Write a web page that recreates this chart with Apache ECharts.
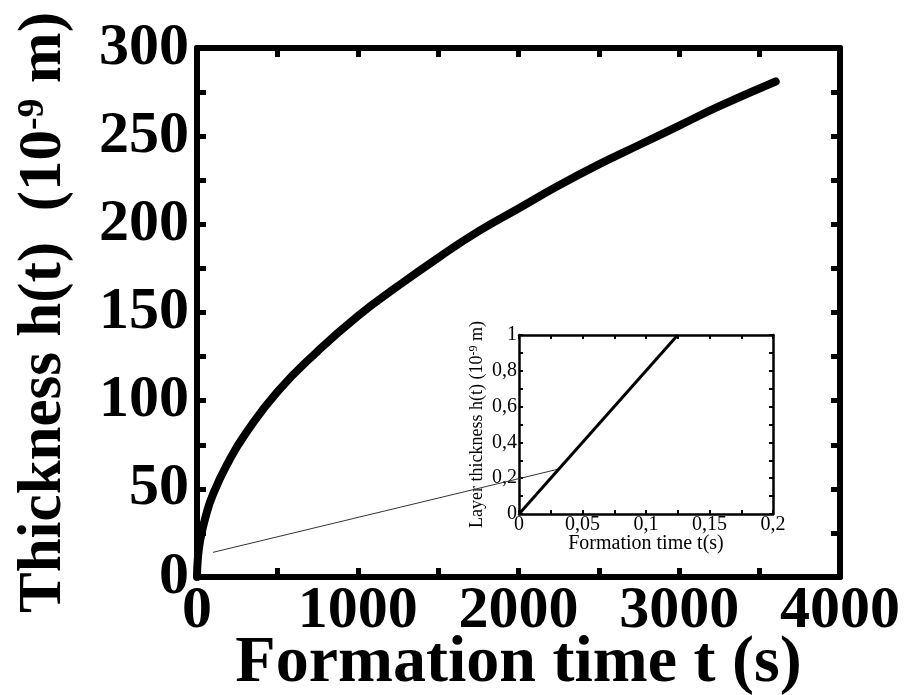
<!DOCTYPE html>
<html><head><meta charset="utf-8">
<script src="https://cdn.jsdelivr.net/npm/echarts@6/dist/echarts.min.js"></script>
<style>html,body{margin:0;padding:0;background:#fff}#c{width:907px;height:695px}</style>
</head><body><div id="c"></div>
<script>
// Main curve: formation time t (s) vs thickness h (1e-9 m)
const mainT = [0, 5, 20, 50, 100, 200, 300, 500, 750, 1000, 1250, 1500, 1750, 2000, 2250, 2500, 2750, 3000, 3250, 3600];
const mainH = [0, 10, 21, 33, 47, 66, 81, 105, 128, 148, 165, 181, 196, 209, 222, 234, 245, 256, 267, 281];
// Inset: early times
const insetT = [0, 0.125];
const insetH = [0, 1];
// Thin pointer line from the curve start to the inset (main-axes coordinates)
const pointerT = [100, 2240];
const pointerH = [14, 61];

const xTicksMain = [0, 1000, 2000, 3000, 4000];
const yTicksMain = [0, 50, 100, 150, 200, 250, 300];

const serif = '"Liberation Serif", "DejaVu Serif", serif';
const chart = echarts.init(document.getElementById('c'));

const pair = (a, b) => a.map((v, i) => [v, b[i]]);
const comma = v => String(v).replace('.', ',');

const mainAxisCommon = {
  nameMoveOverlap: false,
  axisLine: { show: true, onZero: false, lineStyle: { color: '#000', width: 6 } },
  axisTick: { show: true, inside: true, length: 9, lineStyle: { color: '#000', width: 5 } },
  splitLine: { show: false }
};
const insetAxisCommon = {
  nameMoveOverlap: false,
  axisLine: { show: true, onZero: false, lineStyle: { color: '#000', width: 2.5 } },
  axisTick: { show: true, inside: true, length: 4, lineStyle: { color: '#000', width: 2 } },
  splitLine: { show: false }
};

chart.setOption({
  animation: false,
  backgroundColor: '#fff',
  grid: [
    { left: 197, right: 67, top: 48, bottom: 118, containLabel: false, outerBoundsMode: 'none' },
    { left: 519, top: 335, width: 254, height: 179, containLabel: false, outerBoundsMode: 'none' }
  ],
  xAxis: [
    Object.assign({}, mainAxisCommon, {
      type: 'value', gridIndex: 0, min: 0, max: 4000, interval: 500, position: 'bottom',
      name: 'Formation time t (s)', nameLocation: 'middle', nameGap: 54,
      nameTextStyle: { fontFamily: serif, fontWeight: 'bold', fontSize: 66, color: '#000' },
      axisLabel: { margin: 4, fontFamily: serif, fontWeight: 'bold', fontSize: 60, color: '#000',
        formatter: v => xTicksMain.includes(v) ? String(v) : '' }
    }),
    Object.assign({}, mainAxisCommon, {
      type: 'value', gridIndex: 0, min: 0, max: 4000, interval: 500, position: 'top',
      axisLabel: { show: false }
    }),
    Object.assign({}, insetAxisCommon, {
      type: 'value', gridIndex: 1, min: 0, max: 0.2, interval: 0.025, position: 'bottom',
      name: 'Formation time t(s)', nameLocation: 'middle', nameGap: 20,
      nameTextStyle: { fontFamily: serif, fontSize: 20, color: '#000' },
      axisLabel: { margin: 1, fontFamily: serif, fontSize: 20, color: '#000',
        formatter: v => {
          const r = Math.round(v * 1000) / 1000;
          return (Math.round(r * 1000) % 50 === 0) ? comma(r) : '';
        } }
    }),
    Object.assign({}, insetAxisCommon, {
      type: 'value', gridIndex: 1, min: 0, max: 0.2, interval: 0.025, position: 'top',
      axisLabel: { show: false }
    })
  ],
  yAxis: [
    Object.assign({}, mainAxisCommon, {
      type: 'value', gridIndex: 0, min: 0, max: 300, interval: 25, position: 'left',
      name: '{a|Thickness h(t)  (10}{s|-9}{a| m)}', nameLocation: 'middle', nameGap: 122, nameRotate: 90,
      nameTextStyle: {
        rich: {
          a: { fontFamily: serif, fontWeight: 'bold', fontSize: 61, color: '#000' },
          s: { fontFamily: serif, fontWeight: 'bold', fontSize: 38, color: '#000', verticalAlign: 'top', padding: [0, 0, 22, 0] }
        }
      },
      axisLabel: { margin: 8, fontFamily: serif, fontWeight: 'bold', fontSize: 60, color: '#000',
        formatter: v => yTicksMain.includes(v) ? String(v) : '' }
    }),
    Object.assign({}, mainAxisCommon, {
      type: 'value', gridIndex: 0, min: 0, max: 300, interval: 25, position: 'right',
      axisLabel: { show: false }
    }),
    Object.assign({}, insetAxisCommon, {
      type: 'value', gridIndex: 1, min: 0, max: 1, interval: 0.1, position: 'left',
      name: '{a|Layer thickness h(t) (10}{s|-9}{a| m)}', nameLocation: 'middle', nameGap: 32, nameRotate: 90,
      nameTextStyle: {
        rich: {
          a: { fontFamily: serif, fontSize: 18, color: '#000' },
          s: { fontFamily: serif, fontSize: 12, color: '#000', verticalAlign: 'top', padding: [0, 0, 7, 0] }
        }
      },
      axisLabel: { margin: 2, fontFamily: serif, fontSize: 20, color: '#000',
        formatter: v => {
          const r = Math.round(v * 10) / 10;
          return (Math.round(r * 10) % 2 === 0) ? comma(r) : '';
        } }
    }),
    Object.assign({}, insetAxisCommon, {
      type: 'value', gridIndex: 1, min: 0, max: 1, interval: 0.1, position: 'right',
      axisLabel: { show: false }
    })
  ],
  series: [
    { type: 'line', xAxisIndex: 0, yAxisIndex: 0, data: pair(mainT, mainH), smooth: true,
      showSymbol: false, lineStyle: { color: '#000', width: 8, cap: 'round' }, z: 5 },
    { type: 'line', xAxisIndex: 0, yAxisIndex: 0, data: pair(pointerT, pointerH),
      showSymbol: false, lineStyle: { color: '#333', width: 1 }, z: 4 },
    { type: 'line', xAxisIndex: 2, yAxisIndex: 2, data: pair(insetT, insetH),
      showSymbol: false, lineStyle: { color: '#000', width: 3 }, z: 10 }
  ]
});
</script></body></html>
